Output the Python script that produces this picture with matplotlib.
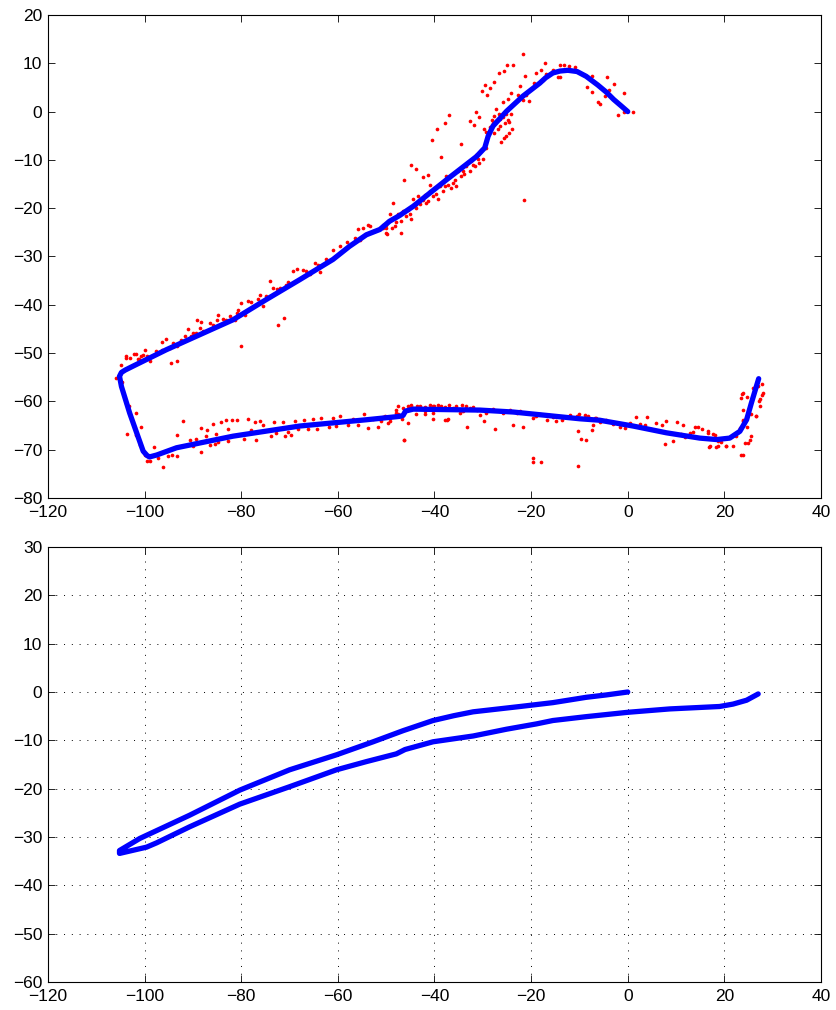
import numpy as np
import matplotlib.pyplot as plt

plt.rcParams['font.family'] = ['Liberation Sans', 'DejaVu Sans']

# estimated trajectory (top panel)
traj_x = [0.0, -1.5, -2.9, -4.4, -6.2, -8.6, -10.5, -12.4, -14.0, -15.5, -17.0, -18.2, -21.7, -25.1,
          -27.9, -28.9, -29.6, -31.3, -37.5, -44.4, -47.2, -49.3, -51.3, -54.1, -57.6,
          -61.0, -67.9, -74.8, -81.7, -88.6, -95.5, -102.4, -104.0, -104.8, -105.2, -104.8,
          -103.1, -101.4, -100.3, -99.5, -99.0, -97.5, -93.4, -81.7, -67.9, -54.1, -47.2, -46.5,
          -46.0, -44.4, -37.5, -30.6, -23.7, -16.8, -9.9, -5.8, 1.1, 8.0, 14.9, 18.4,
          21.1, 23.2, 24.6, 25.6, 27.1]
traj_y = [0.0, 1.3, 2.5, 4.0, 5.5, 7.3, 8.3, 8.55, 8.4, 8.0, 7.0, 5.9, 3.2, 0.06,
          -3.0, -5.1, -7.5, -9.3, -14.1, -19.6, -21.5, -22.7, -24.4, -25.5, -27.9,
          -30.6, -34.8, -38.9, -43.1, -46.2, -49.3, -52.7, -53.5, -54.0, -54.8, -56.9,
          -62.4, -67.2, -70.3, -71.2, -71.5, -71.1, -69.6, -67.2, -65.1, -63.8, -63.1, -62.9,
          -62.0, -61.6, -61.7, -61.8, -62.2, -62.9, -63.6, -63.9, -65.1, -66.5, -67.6, -67.9,
          -67.6, -66.2, -63.8, -60.3, -55.3]

# red measurement points (top panel)
meas_x = [-50.7, -49.6, -48.6, -48.2, -47.6, -46.9, -46.5, -45.5, -45.1, -44.4, -44.1, -43.4,
          -43.1, -42.4, -42.0, -41.4, -41.0, -40.3, -40.0, -39.3, -38.9, -38.3, -37.6, -37.2,
          -36.5, -35.8, -35.5, -35.1, -34.5, -33.8, -33.4, -32.7, -32.4, -31.7, -31.4, -30.7,
          -30.3, -30.0, -29.3,
          -44.8, -43.8, -46.4, -42.4, -41.4, -40.9, -38.6, -34.6, -40.5, -39.5, -37.8, -36.9,
          -48.6, -50.0, -46.9, -44.8,
          -28.6, -27.9, -27.2, -26.5, -25.8, -25.5, -24.8, -25.1, -24.1, -27.6, -26.9, -26.3,
          -25.7, -25.1, -24.6, -24.0, -32.7, -31.8, -30.7, -31.5, -29.8, -29.4, -27.3, -25.8,
          -24.8, -24.1, -22.7, -22.4, -21.7, -21.0, -20.4, -21.3, -19.4, -18.9, -17.9, -17.6,
          -16.9, -15.4, -14.5, -14.0, -14.1, -13.1, -12.2, -11.0, -17.2, -21.7, -25.0, -23.8,
          -26.6, -25.7, -27.6, -29.5, -28.5, -30.1, -29.1, -21.4,
          -7.4, -8.4, -7.5, -6.2, -5.7, -4.25, -2.9, -4.8, -3.8, -0.7, -2.1, -0.7, 1.0,
          -50.0, -47.9, -45.8, -43.8, -41.7, -39.6, -37.9, -36.2, -34.1, -32.0, -31.0,
          -28.2, -27.6, -26.6, -26.4, -24.5,
          -49.3, -48.2, -50.0, -50.6, -48.9, -53.7, -53.3, -54.8, -55.8, -56.5, -55.5, -58.2,
          -49.8, -61.0, -64.8, -64.1, -66.5, -65.8, -63.8, -69.3, -68.4, -70.3, -74.1, -72.7,
          -72.0, -76.2, -76.5, -74.8, -75.6, -80.0, -77.9, -80.7, -80.9, -79.2, -81.2, -83.1,
          -83.8, -84.8, -85.1, -86.5, -89.1, -88.3, -91.0, -88.6, -89.3, -87.9, -91.7, -92.4,
          -90.3, -95.5, -96.5, -94.8, -96.5, -93.4, -100.0, -100.3, -102.1, -101.4, -98.9,
          -103.8, -104.8, -94.5, -93.2, -71.2, -72.4, -80.0, -105.9, -104.6,
          -52.7, -59.6, -62.4, -67.2, -70.7, -73.4, -78.6, -82.4, -85.8, -90.0, -94.1, -97.6,
          -99.6, -103.1,
          -101.8, -100.7, -103.8, -101.2,
          -104.8, -103.8, -103.2, -101.7, -103.6, -100.7, -101.8, -101.0, -100.0, -99.6,
          -98.8, -98.1, -97.2, -96.2, -95.2, -94.3, -93.3, -93.3, -92.0, -90.7, -89.3, -90.0,
          -88.4, -88.3, -87.2, -87.1, -86.5, -85.5, -85.8, -85.3, -84.8, -84.1, -83.2, -82.7,
          -82.7, -81.9, -80.9, -79.5, -78.6, -77.9, -77.2, -77.0, -76.2, -75.6, -73.8, -73.3,
          -72.9, -71.3, -71.0, -70.3, -69.6, -68.9, -68.2, -67.1, -66.2, -65.1, -64.4, -63.4,
          -61.8, -61.0, -60.3, -59.6, -57.9, -56.8, -55.8, -54.6, -53.7, -52.7, -51.7, -50.6,
          -49.3, -47.9, -47.5, -46.8, -46.4, -45.1, -43.7, -42.0, -40.3, -37.5, -38.6,
          -47.6, -47.9, -45.5, -44.4, -43.1, -41.0, -40.0, -38.6, -36.9, -35.5, -33.4, -32.0,
          -43.8, -40.3, -37.9, -37.2, -34.8, -33.2, -30.6, -29.8, -28.6, -27.5, -26.5, -24.4,
          -23.7, -22.4, -21.7, -19.6, -18.2, -16.8, -15.5, -13.7, -12.0, -10.6, -8.9, -46.3,
          -19.7, -19.6, -17.9, -10.4, -10.3, -9.6, -8.6, -7.5, -7.2,
          -46.5, -44.8, -42.0, -39.3, -37.9, -36.2, -34.4, -32.7, -34.1, -31.3, -29.3, -27.9,
          -25.8, -23.0, -21.0, -19.0, -16.2, -14.8, -12.7, -10.0, -8.2, -6.8, -50.3, -49.3,
          -49.6, -51.0, -40.3, -42.0, -45.5,
          -6.5, -5.8, -4.4, -3.0, -1.6, -0.6, 0.4, 1.8, 2.5, 3.5, 3.9, 4.9, 5.9, 7.0, 7.7,
          8.0, 9.4, 10.1, 11.5, 11.8, 12.8, 13.9, 15.3, 16.6, 17.0, 18.0, 18.7, 19.4, 20.4,
          21.8, 22.5, 23.5, 23.2, 23.9, 24.2, 24.9, 25.6, 23.7, 24.6, 26.6, 27.3, 27.7, 27.2,
          11.1, 13.5, 14.6, 16.6, 17.7, 18.7, 16.8, 18.2, 20.4, 22.2, 23.2, 23.9, 23.8, 23.9,
          23.5, 25.4, 24.6, 25.6, 23.8, 26.6, 27.3, 27.9, 27.0, 27.7, 26.0]
meas_y = [-23.4, -22.7, -22.0, -23.7, -21.3, -22.7, -20.6, -20.3, -21.3, -18.1, -19.6, -17.5,
          -19.2, -18.2, -17.2, -18.5, -16.5, -17.5, -15.8, -18.1, -15.4, -16.5, -13.4, -15.1,
          -15.8, -14.1, -15.4, -12.3, -13.4, -13.0, -11.3, -12.3, -10.3, -11.3, -8.9, -10.6,
          -7.9, -9.9, -7.5,
          -11.1, -11.9, -14.1, -13.6, -13.2, -15.1, -9.4, -6.8, -5.9, -3.7, -2.3, -0.8,
          -18.9, -25.1, -25.2, -22.3,
          -3.2, -2.3, -2.0, -1.6, -1.1, -2.3, -1.7, -0.4, -0.6, -4.5, -3.7, -6.3,
          -5.5, -5.0, -4.4, -3.6, -2.0, -2.7, -1.1, -0.1, -3.6, -4.3, 0.6, 1.9,
          2.6, 3.9, 3.5, 5.2, 2.5, 3.5, 2.1, 7.3, 6.0, 8.0, 8.6, 6.6,
          7.8, 8.7, 7.1, 7.1, 9.6, 9.7, 9.5, 9.2, 10.0, 12.0, 9.6, 9.7,
          7.9, 8.4, 6.2, 5.5, 4.9, 4.2, 3.5, -18.3,
          7.3, 5.1, 4.1, 1.9, 1.5, 7.2, 5.8, 3.2, 4.4, 3.9, -0.7, 0.0, -0.1,
          -24.1, -22.9, -21.7, -19.9, -18.9, -17.0, -15.4, -14.8, -12.3, -11.0, -9.9,
          -1.7, -1.0, -0.6, -2.9, -2.2,
          -21.1, -22.0, -23.4, -24.1, -24.1, -23.4, -23.7, -24.1, -24.4, -26.2, -26.5, -27.0,
          -25.3, -28.7, -31.3, -31.7, -32.9, -33.7, -33.3, -32.9, -32.6, -35.3, -35.1, -36.7,
          -36.5, -37.9, -38.9, -38.2, -40.2, -39.6, -39.5, -41.0, -41.7, -42.2, -43.1, -43.1,
          -42.9, -42.2, -43.2, -43.8, -43.2, -43.6, -45.0, -44.8, -45.8, -45.5, -46.4, -47.2,
          -46.5, -47.0, -47.6, -48.9, -49.3, -48.5, -49.4, -50.4, -50.1, -51.3, -51.7,
          -50.7, -52.4, -52.0, -51.7, -42.7, -44.1, -48.6, -55.1, -56.0,
          -24.8, -27.9, -30.6, -32.7, -35.8, -36.5, -39.3, -42.4, -44.1, -45.8, -47.9, -49.6,
          -50.7, -51.0,
          -50.2, -50.5, -51.0, -51.2,
          -56.2, -60.3, -61.0, -62.5, -66.7, -65.3, -66.9, -69.1, -71.0, -72.4,
          -72.4, -69.4, -71.7, -73.6, -71.4, -71.0, -71.4, -67.0, -64.1, -67.9, -67.8, -69.3,
          -70.5, -65.5, -67.2, -66.0, -69.1, -68.9, -64.6, -66.7, -68.5, -64.3, -63.9, -68.2,
          -65.7, -63.8, -63.8, -67.8, -63.6, -66.0, -64.3, -67.9, -64.1, -64.8, -67.2, -64.3,
          -66.5, -64.3, -67.2, -66.4, -66.9, -64.1, -65.7, -63.9, -65.8, -63.6, -65.7, -63.4,
          -65.4, -63.4, -65.0, -63.1, -64.8, -63.6, -64.8, -62.7, -65.5, -63.6, -65.3, -63.2,
          -64.1, -61.7, -62.7, -63.6, -67.9, -61.3, -61.0, -62.0, -61.0, -63.8, -61.3,
          -61.0, -62.4, -60.9, -61.4, -60.9, -60.7, -61.0, -60.9, -60.7, -61.0, -60.9, -61.2,
          -62.7, -62.5, -63.9, -63.6, -62.5, -65.2, -62.9, -64.1, -61.7, -65.8, -62.0, -61.7,
          -64.8, -62.0, -65.3, -63.4, -62.7, -63.8, -63.2, -63.8, -62.9, -63.1, -62.9, -67.9,
          -71.7, -72.6, -72.5, -73.3, -66.2, -67.8, -67.9, -66.0, -64.8,
          -61.4, -60.7, -61.2, -60.7, -61.2, -61.4, -60.7, -61.4, -62.0, -61.8, -62.3, -61.6,
          -62.4, -62.4, -62.5, -63.1, -62.9, -64.1, -63.2, -62.7, -63.1, -63.4, -63.1, -63.4,
          -64.5, -64.1, -63.6, -62.7, -64.5,
          -63.4, -64.3, -63.8, -64.6, -65.2, -65.5, -64.5, -63.2, -64.6, -64.8, -63.2, -65.7,
          -64.5, -64.8, -68.9,
          -64.1, -68.3, -64.3, -64.8, -67.4, -66.5, -65.2, -65.7, -66.5, -69.3, -66.9, -69.3,
          -68.5, -69.2,
          -69.2, -67.2, -71.2, -65.8, -63.8, -68.6, -68.6, -67.2, -58.4, -59.0, -63.1, -61.0,
          -58.6, -60.0,
          -66.7, -66.4, -65.2, -66.2, -66.7, -68.3, -69.4, -69.4, -69.2, -66.7, -65.5, -64.1,
          -61.7, -58.2, -59.3, -67.9, -65.2, -62.7, -71.2, -63.1, -59.6, -58.2, -56.9, -56.3,
          -57.2]

# bottom panel: outward and return legs
leg1_x = [0.0, -4.4, -8.6, -15.5, -22.3, -32.0, -36.0, -40.3, -46.5, -52.7, -60.3, -70.0,
          -80.3, -90.7, -101.0, -105.2]
leg1_y = [0.0, -0.6, -1.1, -2.2, -3.0, -4.1, -4.9, -5.9, -8.0, -10.3, -13.0, -16.1,
          -20.3, -25.5, -30.3, -32.8]
leg2_x = [-105.2, -99.6, -97.5, -90.7, -80.3, -70.0, -60.3, -54.1, -47.9, -46.1, -40.3,
          -32.0, -25.1, -18.9, -15.5, -8.6, 0.0, 8.7, 19.0, 21.8, 24.6, 27.0]
leg2_y = [-33.4, -32.1, -31.2, -27.9, -23.2, -19.6, -16.1, -14.4, -12.8, -11.9, -10.3,
          -9.1, -7.7, -6.6, -5.9, -5.1, -4.2, -3.5, -3.0, -2.5, -1.7, -0.4]

W, H = 837, 1010
fig = plt.figure(figsize=(W / 100, H / 100), dpi=100)
ax1 = fig.add_axes([48 / W, (H - 498) / H, 773 / W, 483 / H])
ax2 = fig.add_axes([48 / W, (H - 982) / H, 773 / W, 435 / H])

ax1.scatter(meas_x, meas_y, s=7, color=(1, 0, 0), linewidths=0, zorder=2)
ax1.plot(traj_x, traj_y, color=(0, 0, 1), lw=3.8, solid_joinstyle='round',
         solid_capstyle='round', zorder=3)
ax1.set_xlim(-120, 40)
ax1.set_ylim(-80, 20)
ax1.set_yticks(np.arange(-80, 21, 10))

ax2.plot(leg1_x + leg2_x, leg1_y + leg2_y, color=(0, 0, 1), lw=3.8,
         solid_joinstyle='round', solid_capstyle='round', zorder=3)
ax2.set_xlim(-120, 40)
ax2.set_ylim(-60, 30)
ax2.set_yticks(np.arange(-60, 31, 10))
ax2.grid(True, color='k', linestyle=(0, (1, 7)), linewidth=0.7)

for ax in (ax1, ax2):
    ax.set_xticks(np.arange(-120, 41, 20))
    ax.tick_params(direction='in', top=True, right=True, length=5, width=0.6,
                   labelsize=12.5)
    ax.tick_params(axis='x', pad=5)
    ax.tick_params(axis='y', pad=4)
    for sp in ax.spines.values():
        sp.set_linewidth(0.8)

fig.savefig('out.png', dpi=100)
